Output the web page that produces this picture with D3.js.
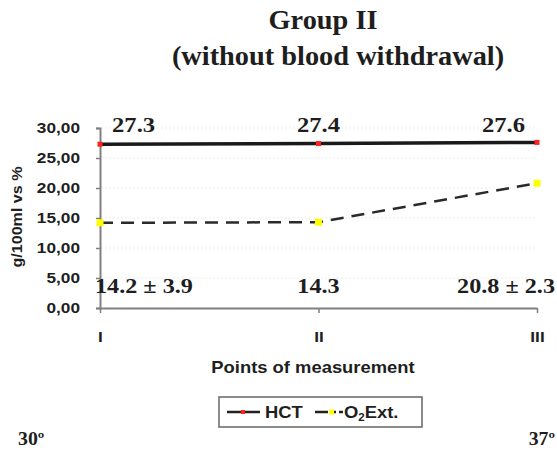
<!DOCTYPE html>
<html>
<head>
<meta charset="utf-8">
<script src="https://cdn.jsdelivr.net/npm/d3@7"></script>
<style>
  body { margin: 0; background: #fff; }
  svg { display: block; }
</style>
</head>
<body>
<script>
// data
const points = ["I", "II", "III"];
const hct = [27.3, 27.4, 27.6];
const o2ext = [14.2, 14.3, 20.8];
const o2sd = [3.9, null, 2.3];
const yTicks = [0, 5, 10, 15, 20, 25, 30];

const W = 557, H = 450;
const svg = d3.select("body").append("svg")
    .attr("width", W)
    .attr("height", H);

const x = d3.scalePoint().domain(points).range([100, 537]);
const y = d3.scaleLinear().domain([0, 30]).range([308, 128]);

const serif = "'Liberation Serif', 'Times New Roman', serif";
const sans = "'Liberation Sans', Arial, sans-serif";
const ink = "#1e1e1e";

// the source image is a bit stretched sideways, so text gets a scaleX
function label(g, px, py, str, font, anchor, k) {
  return g.append("text")
      .attr("transform", "translate(" + px + "," + py + ") scale(" + (k || 1) + ",1)")
      .attr("text-anchor", anchor || "start")
      .style("font", font)
      .attr("fill", ink)
      .text(str);
}

// title
label(svg, 323, 29, "Group II", "bold 27px " + serif, "middle", 1.05);
label(svg, 338, 65, "(without blood withdrawal)", "bold 27px " + serif, "middle", 1.05);

// faint grid
svg.append("g").selectAll("line")
  .data(yTicks.slice(1))
  .join("line")
    .attr("x1", 101).attr("x2", 537)
    .attr("y1", d => y(d)).attr("y2", d => y(d))
    .attr("stroke", "#ededed")
    .attr("stroke-dasharray", "2,2");

// y axis
const yAxis = svg.append("g")
    .attr("transform", "translate(100,0)")
    .call(d3.axisLeft(y).tickValues(yTicks).tickSize(4)
      .tickFormat(d => d3.format(".2f")(d).replace(".", ",")));
yAxis.select(".domain").attr("stroke", "#808080").attr("stroke-width", 2);
yAxis.selectAll(".tick line").attr("stroke", "#808080").attr("stroke-width", 1.5);
yAxis.selectAll(".tick text")
    .attr("x", null)
    .attr("transform", "translate(-20,0) scale(1.15,1)")
    .style("font", "bold 15px " + sans)
    .attr("fill", ink);

svg.append("text")
    .attr("transform", "translate(22,217) rotate(-90) scale(1.15,1)")
    .attr("text-anchor", "middle")
    .style("font", "bold 14px " + sans)
    .attr("fill", ink)
    .text("g/100ml vs %");

// x axis
const xAxis = svg.append("g")
    .attr("transform", "translate(0,308)")
    .call(d3.axisBottom(x).tickSize(5).tickSizeOuter(0));
xAxis.select(".domain").attr("stroke", "#808080").attr("stroke-width", 2);
xAxis.selectAll(".tick line").attr("stroke", "#808080").attr("stroke-width", 1.5);
xAxis.selectAll(".tick text")
    .attr("y", null).attr("dy", null)
    .attr("transform", "translate(0,34) scale(1.15,1)")
    .style("font", "bold 15px " + sans)
    .attr("fill", ink);

label(svg, 313, 373, "Points of measurement", "bold 16px " + sans, "middle", 1.15);

// lines
const line = d3.line().x((d, i) => x(points[i])).y(d => y(d));

svg.append("path").datum(hct)
    .attr("d", line)
    .attr("fill", "none")
    .attr("stroke", "#1a1a1a")
    .attr("stroke-width", 3.5);

svg.append("path").datum(o2ext)
    .attr("d", line)
    .attr("fill", "none")
    .attr("stroke", "#2a2a2a")
    .attr("stroke-width", 2.5)
    .attr("stroke-dasharray", "13,8");

// markers
svg.append("g").selectAll("rect")
  .data(hct)
  .join("rect")
    .attr("x", (d, i) => x(points[i]) - 2.5)
    .attr("y", d => y(d) - 2.5)
    .attr("width", 5).attr("height", 5)
    .attr("fill", "#ff2020");

svg.append("g").selectAll("rect")
  .data(o2ext)
  .join("rect")
    .attr("x", (d, i) => x(points[i]) - 3.5)
    .attr("y", d => y(d) - 3.5)
    .attr("width", 7).attr("height", 7)
    .attr("fill", "#ffff00");

// value labels
const anchors = ["start", "middle", "end"];
const dx = [12, 0, -12];
const dx2 = [-5, 0, 18];
const valFont = "bold 22px " + serif;
hct.forEach((d, i) => {
  label(svg, x(points[i]) + dx[i], 132, d3.format(".1f")(d), valFont, anchors[i], 1.12);
});
o2ext.forEach((d, i) => {
  const s = o2sd[i] == null ? d3.format(".1f")(d)
      : d3.format(".1f")(d) + " \u00b1 " + d3.format(".1f")(o2sd[i]);
  label(svg, x(points[i]) + dx2[i], 293, s, valFont, anchors[i], 1.1);
});

// legend
const lg = svg.append("g").attr("transform", "translate(219,397)");
lg.append("rect").attr("width", 203).attr("height", 30)
    .attr("fill", "#fff").attr("stroke", "#666").attr("stroke-width", 1.5);
lg.append("line").attr("x1", 8).attr("x2", 41).attr("y1", 15).attr("y2", 15)
    .attr("stroke", "#222").attr("stroke-width", 2.5);
lg.append("rect").attr("x", 22).attr("y", 13).attr("width", 4).attr("height", 4)
    .attr("fill", "#ff2020");
label(lg, 46, 21, "HCT", "bold 16px " + sans, "start", 1.15);
lg.append("line").attr("x1", 96).attr("x2", 124).attr("y1", 15).attr("y2", 15)
    .attr("stroke", "#222").attr("stroke-width", 2.5)
    .attr("stroke-dasharray", "13,6,2,3,5");
lg.append("rect").attr("x", 110).attr("y", 12.5).attr("width", 5).attr("height", 5)
    .attr("fill", "#ffff00");
const lt = label(lg, 125, 21, "", "bold 16px " + sans, "start", 1.15);
lt.append("tspan").text("O");
lt.append("tspan").attr("dy", 3).style("font-size", "10px").text("2");
lt.append("tspan").attr("dy", -3).text("Ext.");

// temperatures
label(svg, 18, 445, "30\u00ba", "bold 18px " + serif, "start", 1.1);
label(svg, 555, 445, "37\u00ba", "bold 18px " + serif, "end", 1.1);
</script>
</body>
</html>
